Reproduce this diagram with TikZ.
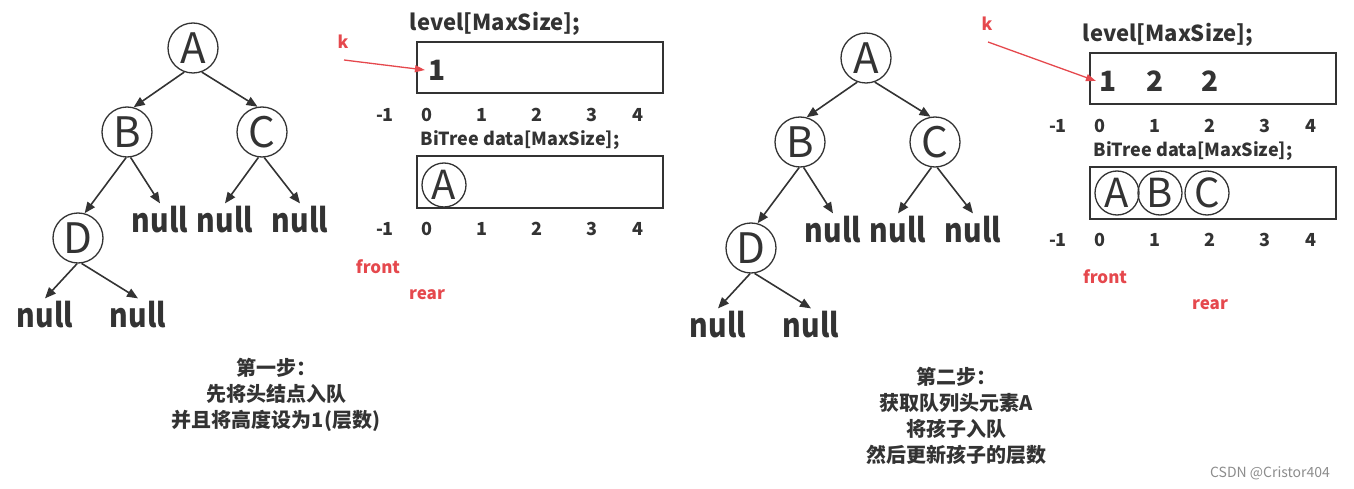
\documentclass[tikz,border=0pt]{standalone}
\usepackage{fontspec}
\setmainfont{Noto Sans CJK SC}
\newfontfamily\narrowfont[FakeStretch=0.86]{Noto Sans CJK SC}
\usetikzlibrary{arrows.meta}
\definecolor{ink}{HTML}{333333}
\definecolor{redk}{HTML}{E5484D}
\tikzset{
  tnode/.style={circle,draw=ink,line width=1.3pt,minimum size=50pt,inner sep=0pt,font=\fontsize{42}{42}\selectfont,text=ink},
  qnode/.style={circle,draw=ink,line width=1.3pt,minimum size=44pt,inner sep=0pt,font=\fontsize{40}{40}\selectfont,text=ink},
  nullnode/.style={inner sep=3pt,font=\narrowfont\fontsize{33}{33}\selectfont\bfseries,text=ink},
  edge/.style={draw=ink,line width=1.6pt,-{Triangle[length=11pt,width=9pt]}},
  idx/.style={font=\fontsize{18}{18}\selectfont\bfseries,text=ink},
  title/.style={font=\fontsize{22}{22}\selectfont\bfseries,text=ink},
  title2/.style={font=\fontsize{18}{18}\selectfont\bfseries,text=ink},
  val/.style={font=\fontsize{28}{28}\selectfont\bfseries,text=ink},
  redlbl/.style={font=\fontsize{17}{17}\selectfont\bfseries,text=redk},
  qbox/.style={draw=ink,line width=1.8pt},
  redarrow/.style={draw=redk,line width=1.3pt,-{Triangle[length=10pt,width=7pt]}},
  caption/.style={align=center,font=\fontsize{20}{26}\selectfont\bfseries,text=ink},
}
\newcommand{\mytree}{%
  \node[tnode] (A) at (193,48) {A};
  \node[tnode] (B) at (127,132) {B};
  \node[tnode] (C) at (262,132) {C};
  \node[tnode] (D) at (78,238) {D};
  \node[nullnode] (nB) at (160,220) {null};
  \node[nullnode] (nC1) at (225,220) {null};
  \node[nullnode] (nC2) at (300,220) {null};
  \node[nullnode] (nD1) at (45,315) {null};
  \node[nullnode] (nD2) at (138,315) {null};
  \draw[edge] (A.250) -- (B.75);
  \draw[edge] (A.290) -- (C.100);
  \draw[edge] (B.268) -- (D.75);
  \draw[edge] (B.278) -- (nB.north);
  \draw[edge] (C.262) -- (nC1.north);
  \draw[edge] (C.275) -- (nC2.north);
  \draw[edge] (D.268) -- (nD1.north);
  \draw[edge] (D.278) -- (nD2.north);
}
\newcommand{\myindex}[1]{%
  \node[idx] (i#1m) at (385,#1) {-1};
  \node[idx] (i#1a) at (427,#1) {0};
  \node[idx] (i#1b) at (482,#1) {1};
  \node[idx] (i#1c) at (537,#1) {2};
  \node[idx] (i#1d) at (592,#1) {3};
  \node[idx] (i#1e) at (638,#1) {4};
}
\begin{document}
\begin{tikzpicture}[x=1pt,y=-1pt]
\useasboundingbox (0,0) rectangle (1354,489);
% ---------- panel 1 ----------
\begin{scope}[name prefix=p1-]
  \mytree
  \node[title] (lv) at (495,24) {level[MaxSize];};
  \node[qbox,minimum width=246pt,minimum height=51pt,inner sep=0pt] (box1) at (540,67.5) {};
  \node[val] (v0) at (437,70) {1};
  \myindex{115}
  \node[title2] (bt) at (520,140) {BiTree data[MaxSize];};
  \node[qbox,minimum width=246pt,minimum height=52pt,inner sep=0pt] (box2) at (540,182) {};
  \node[qnode] (qA) at (444,185) {A};
  \myindex{229}
  \node[redlbl] (k) at (343,42) {k};
  \coordinate (ks) at (344,60);
  \draw[redarrow] (ks) -- (v0.west);
  \node[redlbl] (front) at (378,267) {front};
  \node[redlbl] (rear) at (427,295) {rear};
  \node[caption] (cap) at (276,395) {第一步：\\先将头结点入队\\并且将高度设为1(层数)};
\end{scope}
% ---------- panel 2 ----------
\begin{scope}[name prefix=p2-,shift={(673,10)}]
  \mytree
\end{scope}
\begin{scope}[name prefix=p2-,shift={(673,11)}]
  \node[title] (lv) at (495,24) {level[MaxSize];};
  \node[qbox,minimum width=246pt,minimum height=51pt,inner sep=0pt] (box1) at (540,67.5) {};
  \node[val] (v0) at (435,70) {1};
  \node[val] (v1) at (482,70) {2};
  \node[val] (v2) at (537,70) {2};
  \myindex{115}
  \node[title2] (bt) at (520,140) {BiTree data[MaxSize];};
  \node[qbox,minimum width=246pt,minimum height=52pt,inner sep=0pt] (box2) at (540,182) {};
  \node[qnode] (qA) at (444,182) {A};
  \node[qnode] (qB) at (487,182) {B};
  \node[qnode] (qC) at (534,182) {C};
  \myindex{229}
  \node[redlbl] (k) at (314,13) {k};
  \coordinate (ks) at (315,31);
  \draw[redarrow] (ks) -- (v0.west);
  \node[redlbl] (front) at (432,266) {front};
  \node[redlbl] (rear) at (537,294) {rear};
\end{scope}
\node[caption] (cap2) at (956,416) {第二步：\\获取队列头元素A\\将孩子入队\\然后更新孩子的层数};
\node[font=\fontsize{14}{14}\selectfont,text=black!45] (wm) at (1270,473) {CSDN @Cristor404};
\end{tikzpicture}
\end{document}
